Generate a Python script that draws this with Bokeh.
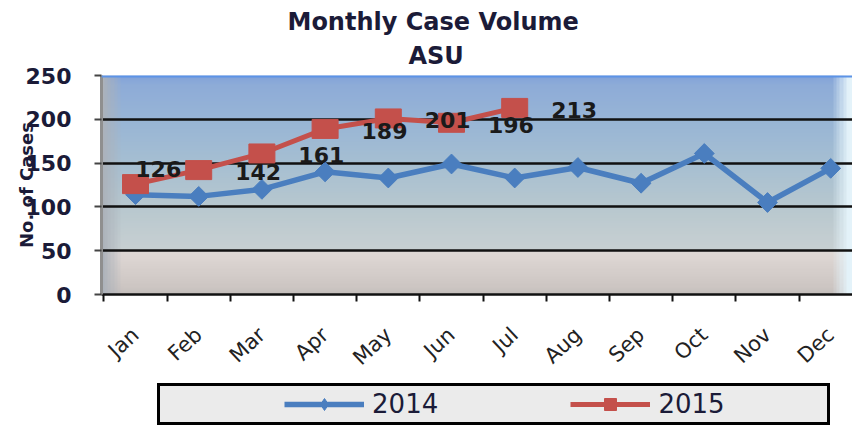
import numpy as np
from bokeh.plotting import figure
from bokeh.layouts import column
from bokeh.models import Range1d, FixedTicker, Legend, LegendItem, Span, Title
from bokeh.core.properties import value
from bokeh.embed import file_html
from bokeh.resources import INLINE

# ---------------- data ----------------
months = ["Jan", "Feb", "Mar", "Apr", "May", "Jun",
          "Jul", "Aug", "Sep", "Oct", "Nov", "Dec"]
cases_2014 = [114, 112, 120, 140, 133, 149, 133, 145, 127, 161, 105, 144]
cases_2015 = [126, 142, 161, 189, 201, 196, 213]
y_ticks = [0, 50, 100, 150, 200, 250]
series_names = ["2014", "2015"]
title_lines = ["Monthly Case Volume", "ASU"]
y_title = "No. of Cases"

# ---------------- style ----------------
FONT = "DejaVu Sans"
BLUE = "#4a7ebf"
RED = "#c4504b"
TXT = "#1b1b38"
NBSP = "\u00a0"
W_FIG = 852
LEFT = 101

x_idx = list(range(len(months)))
x_2015 = x_idx[:len(cases_2015)]
X0 = -0.538
X1 = X0 + (W_FIG - LEFT) / 63.2
Y0, Y1 = 0, 250

p = figure(width=W_FIG, height=381,
           x_range=Range1d(X0, X1), y_range=Range1d(Y0, Y1),
           output_backend="svg", toolbar_location=None,
           min_border_left=LEFT, min_border_right=0,
           min_border_top=75, min_border_bottom=83,
           border_fill_color="white", background_fill_color="white",
           outline_line_color=None)

# titles: first line is the figure title, second line stacked below it
def style_title(t, off):
    t.align = "left"
    t.offset = off
    t.text_font = FONT
    t.text_font_size = "24px"
    t.text_font_style = "bold"
    t.text_color = TXT

p.title.text = title_lines[0]
style_title(p.title, 186)
p.title.standoff = -4
sub_title = Title(text=title_lines[1])
style_title(sub_title, 307)
sub_title.standoff = 12
p.add_layout(sub_title, "above")

# background gradient (decoration of the plot area)
H, W = 250, 240
ky = [0, 8, 40, 49, 51, 100, 150, 200, 240, 250]
kr = [196, 205, 220, 222, 200, 184, 166, 152, 142, 130]
kg = [190, 198, 213, 216, 208, 200, 191, 181, 172, 163]
kb = [188, 195, 210, 213, 210, 207, 210, 214, 216, 218]
rows = np.linspace(Y0, Y1, H)
base = np.stack([np.interp(rows, ky, kr), np.interp(rows, ky, kg),
                 np.interp(rows, ky, kb)], axis=-1)
cols = np.linspace(X0, X1, W)
rgb = np.repeat(base[:, None, :], W, axis=1)
tl = np.clip((X0 + 0.3 - cols) / 0.3, 0, 1)[None, :, None]
rgb = rgb * (1 - tl) + np.array([172, 178, 186])[None, None, :] * tl
edge_r = 11.05
tr = np.clip((cols - edge_r) / 0.25, 0, 1)[None, :, None]
rgb = rgb * (1 - tr) + np.array([228, 243, 250])[None, None, :] * tr
img = np.empty((H, W), dtype=np.uint32)
view = img.view(dtype=np.uint8).reshape((H, W, 4))
view[:, :, :3] = rgb.astype(np.uint8)
view[:, :, 3] = 255
p.image_rgba(image=[img], x=X0, y=Y0, dw=X1 - X0, dh=Y1 - Y0, level="image")

p.add_layout(Span(location=Y1, dimension="width", line_color="#5d93e6",
                  line_width=4))

# grid
p.xgrid.visible = False
p.ygrid.ticker = FixedTicker(ticks=y_ticks[1:-1])
p.ygrid.grid_line_color = "#111111"
p.ygrid.grid_line_width = 2.5

# y axis
p.yaxis.ticker = FixedTicker(ticks=y_ticks)
p.yaxis.axis_label = y_title
p.yaxis.axis_label_text_font = FONT
p.yaxis.axis_label_text_font_size = "18px"
p.yaxis.axis_label_text_font_style = "bold"
p.yaxis.axis_label_text_color = TXT
p.yaxis.axis_label_standoff = -14
p.yaxis.major_label_text_font = FONT
p.yaxis.major_label_text_font_size = "22px"
p.yaxis.major_label_text_font_style = "bold"
p.yaxis.major_label_text_color = TXT
p.yaxis.major_label_standoff = 23
p.yaxis.major_tick_out = 7
p.yaxis.major_tick_in = 0
p.yaxis.major_tick_line_color = "#444444"
p.yaxis.major_tick_line_width = 2
p.yaxis.minor_tick_line_color = None
p.yaxis.axis_line_color = "#8f8f8f"
p.yaxis.axis_line_width = 3

# x axis
p.xaxis.ticker = FixedTicker(ticks=x_idx,
                             minor_ticks=[i - 0.5 for i in range(len(months) + 1)])
p.xaxis.major_label_overrides = {i: m for i, m in enumerate(months)}
p.xaxis.major_label_orientation = 0.75
p.xaxis.major_label_text_font = FONT
p.xaxis.major_label_text_font_size = "21px"
p.xaxis.major_label_text_color = "#222222"
p.xaxis.major_label_standoff = 30
p.xaxis.major_tick_line_color = None
p.xaxis.major_tick_out = 7
p.xaxis.minor_tick_line_color = "#111111"
p.xaxis.minor_tick_out = 7
p.xaxis.minor_tick_in = 0
p.xaxis.minor_tick_line_width = 2
p.xaxis.axis_line_color = "#111111"
p.xaxis.axis_line_width = 2.5

# series
p.line(x_idx, cases_2014, line_color=BLUE, line_width=5.5)
p.scatter(x_idx, cases_2014, marker="square", angle=np.pi / 4, size=14,
          fill_color=BLUE, line_color=BLUE)
p.line(x_2015, cases_2015, line_color=RED, line_width=5)
p.rect(x_2015, cases_2015, width=26, height=19,
       width_units="screen", height_units="screen",
       fill_color=RED, line_color=RED)

# data labels of 2015 (placed like the original: shifted right of each point)
lx = [x_2015[0] + 0.36] + [x + 0.94 for x in x_2015[1:]]
ly = [cases_2015[0] + 17.5] + [v - 2 for v in cases_2015[1:]]
p.text(x=lx, y=ly, text=[str(v) for v in cases_2015],
       text_font=value(FONT), text_font_style="bold", text_font_size="22px",
       text_align="center", text_baseline="middle", text_color="#1a1a1a")

# ---------------- legend strip (separate small figure, same frame columns) ----
# the same series are drawn there outside its visible range, only to key the legend
lg = figure(width=W_FIG, height=47, output_backend="svg", toolbar_location=None,
            x_range=Range1d(X0, X1), y_range=Range1d(-2, -1),
            x_axis_location=None, y_axis_location=None,
            min_border_left=LEFT, min_border_right=0,
            min_border_top=2, min_border_bottom=1,
            border_fill_color="white", background_fill_color="white",
            outline_line_color=None)
lg.grid.visible = False
dummy = lg.line(x_idx, cases_2014, line_alpha=0)
k14 = lg.line(x_idx, cases_2014, line_color=BLUE, line_width=5.5)
d14 = lg.scatter(x_idx, cases_2014, marker="diamond", size=20,
                 fill_color=BLUE, line_color=BLUE)
k15 = lg.line(x_2015, cases_2015, line_color=RED, line_width=5)
d15 = lg.scatter(x_2015, cases_2015, marker="square", size=21,
                 fill_color=RED, line_color=RED)
legend = Legend(items=[
    LegendItem(label=NBSP * 4, renderers=[dummy]),
    LegendItem(label=series_names[0] + NBSP * 16, renderers=[k14, d14]),
    LegendItem(label=series_names[1] + NBSP * 12, renderers=[k15, d15]),
], orientation="horizontal", location=(56, 2))
legend.padding = 3
legend.spacing = 0
legend.margin = 0
legend.label_standoff = 8
legend.glyph_width = 80
legend.glyph_height = 30
legend.label_width = 0
legend.label_height = 0
legend.label_text_font = FONT
legend.label_text_font_size = "26px"
legend.label_text_color = TXT
legend.border_line_color = "#000000"
legend.border_line_width = 3
legend.border_line_alpha = 1
legend.background_fill_color = "#ebebeb"
legend.background_fill_alpha = 1
lg.add_layout(legend)

open("out.html", "w").write(file_html(column(p, lg, spacing=0), INLINE))
